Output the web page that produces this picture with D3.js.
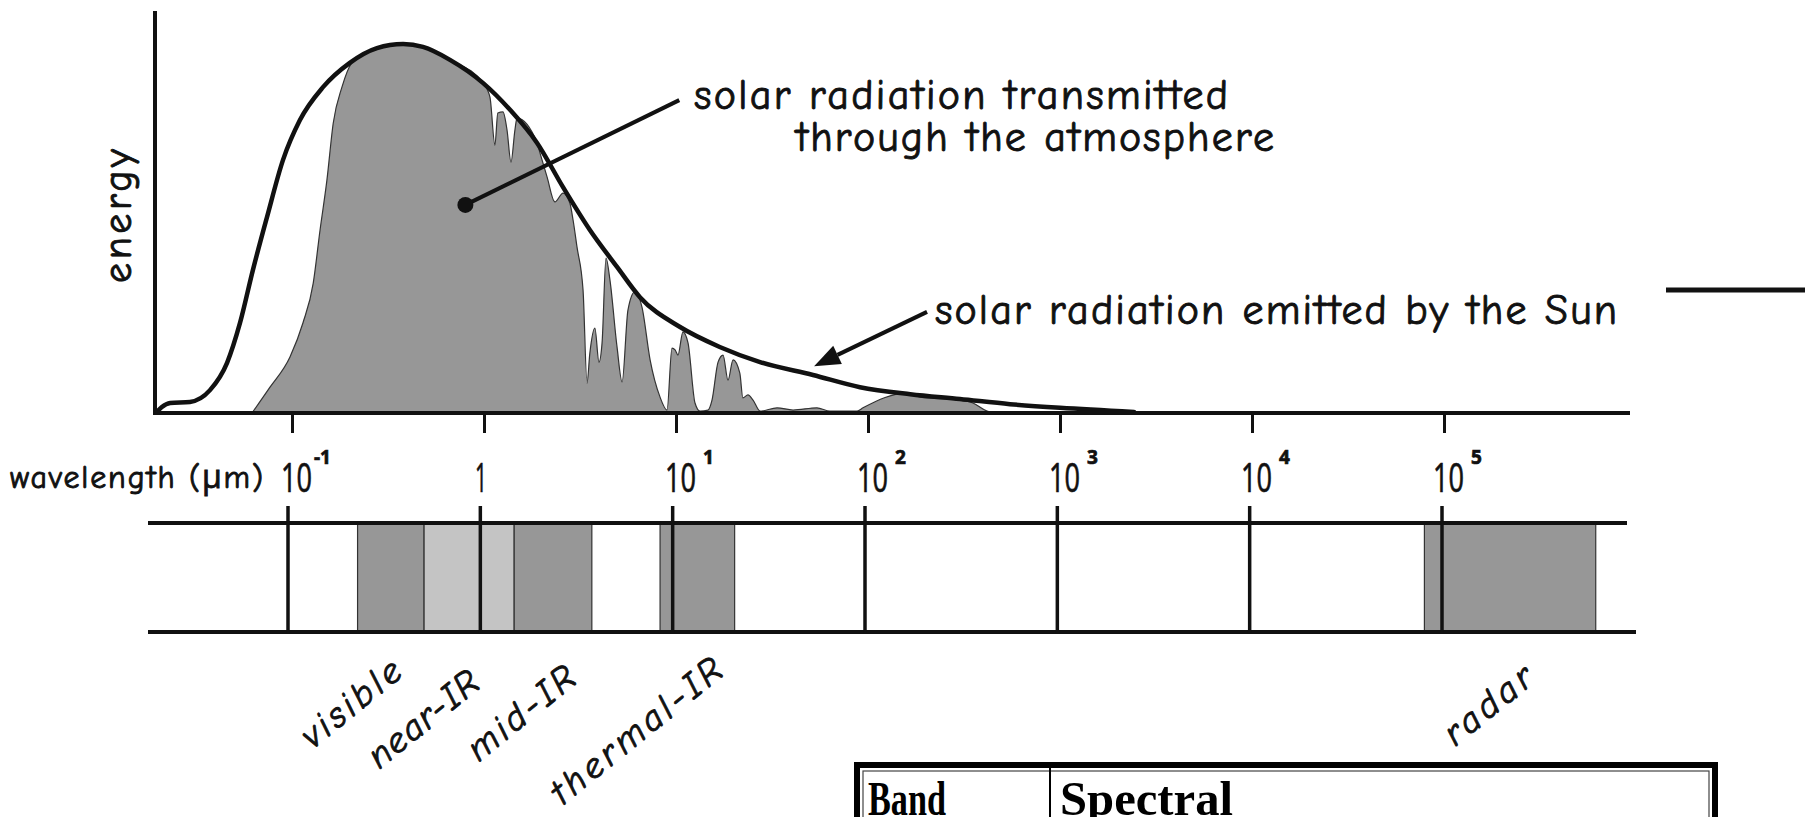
<!DOCTYPE html>
<html>
<head>
<meta charset="utf-8">
<script src="https://cdn.jsdelivr.net/npm/d3@7"></script>
<style>
  body { margin: 0; background: #fff; }
  svg { display: block; }
  .hand { font-family: "Comic Sans MS", "Comic Neue", "Open Sans", sans-serif; fill: #111; stroke: #111; stroke-width: 0.9px; }
  .digits { font-family: "Open Sans", sans-serif; fill: #111; stroke: #111; stroke-width: 0.7px; }
</style>
</head>
<body>
<div id="chart"></div>
<script>
// wavelength in micrometres, energy relative to the peak (=100)
const sunWavelength = [0.0198, 0.021, 0.0232, 0.0294, 0.0374, 0.0459, 0.0536, 0.0626, 0.0741, 0.0898,
  0.11, 0.145, 0.2, 0.277, 0.379, 0.481, 0.665, 0.99, 1.37, 1.89, 2.58, 3.56, 4.93, 6.49,
  10.5, 16.9, 27.4, 51.7, 90.8, 166, 301, 549, 1000, 2430];
const sunEnergy = [0.3, 1.6, 2.7, 3.0, 6.2, 13.6, 24.4, 38.8, 53.1, 68.6,
  79.4, 88.3, 94.9, 98.9, 100, 99.2, 95.7, 89.4, 82.1, 73.2, 61.2, 49.6, 39.6, 31.4,
  23.3, 17.9, 13.8, 10.3, 7.0, 5.1, 3.8, 2.4, 1.4, 0.3];

const transWavelength = [0.0619, 0.0768, 0.0976, 0.114, 0.129, 0.14, 0.152, 0.164, 0.182, 0.205,
  0.277, 0.379, 0.481, 0.665, 0.99, 1.074, 1.14, 1.18, 1.256, 1.318, 1.382, 1.449, 1.485, 1.89,
  1.957, 2.13, 2.34, 2.58, 2.8, 2.91, 3.05, 3.28, 3.44, 3.56, 3.78, 3.97, 4.12, 4.32, 4.53,
  4.93, 5.24, 5.62, 6.11, 6.65, 7.33, 8.26, 8.98, 9.53, 9.89, 10.24, 10.87, 11.55, 12.56,
  13.34, 14.68, 15.4, 16.56, 17.58, 18.66, 19.82, 21.5, 22.3, 23.7, 25.2, 27.4, 33.6, 40.7,
  54.2, 63.4, 87.7, 94.2, 160, 187, 301, 352, 417, 457];
const transEnergy = [0, 7.0, 15.2, 24.4, 35.2, 49.6, 63.1, 78.6, 88.3, 94.9,
  98.9, 100, 99.2, 95.7, 89.4, 85.6, 72.6, 81.3, 81.6, 76.7, 68.0, 76.7, 79.9, 73.2,
  70.5, 64.0, 57.2, 59.6, 56.9, 52.3, 45.0, 33.3, 8.1, 16.3, 23.0, 13.8, 19.0, 42.0, 36.0,
  17.9, 8.4, 27.9, 32.8, 28.7, 14.4, 4.3, 0.8, 17.6, 17.1, 15.7, 22.0, 19.0, 2.7,
  0.5, 0.8, 3.5, 13.8, 15.7, 8.9, 14.4, 10.8, 4.1, 4.9, 3.5, 0.5, 1.4, 0.8,
  1.4, 0.5, 0.5, 1.4, 5.4, 4.3, 3.5, 2.7, 0.5, 0];

const tickValues = [0.1, 1, 10, 100, 1000, 10000, 100000];
const tickBase = ["10", "1", "10", "10", "10", "10", "10"];
const tickSup = ["-1", "", "1", "2", "3", "4", "5"];

const bandNames = ["visible", "near-IR", "mid-IR", "thermal-IR", "radar"];
const bandStart = [0.23, 0.51, 1.5, 8.6, 81000];
const bandEnd = [0.51, 1.5, 3.8, 21, 630000];

const kWidth = 1805;
const kHeight = 817;
const kPlotLeft = 155;
const kPlotRight = 1630;
const kBaseY = 413;
const kPeakY = 44;
const kAxisTop = 11;
const kBandTop = 523;
const kBandBottom = 632;
const kDark = "#979797";
const kLight = "#c4c4c4";
// where the slanted band names sit (centre of each label) and how long they run
const kBandLabelPos = [[351, 703], [423, 719], [521, 713], [636, 731], [1488, 705]];
const kBandLabelLen = [118, 132, 128, 210, 104];

function createSvg()
{
  return d3.select("#chart")
    .append("svg")
    .attr("width", kWidth)
    .attr("height", kHeight)
    .style("background", "#fff");
}

function drawSpectrum(svg, x, y)
{
  const trans = transWavelength.map((w, i) => [w, transEnergy[i]]);
  const sun = sunWavelength.map((w, i) => [w, sunEnergy[i]]);

  const area = d3.area()
    .x(d => x(d[0]))
    .y0(y(0))
    .y1(d => y(d[1]))
    .curve(d3.curveMonotoneX);

  svg.append("path")
    .datum(trans)
    .attr("d", area)
    .attr("fill", kDark)
    .attr("stroke", "#333")
    .attr("stroke-width", 1.2);

  const line = d3.line()
    .x(d => x(d[0]))
    .y(d => y(d[1]))
    .curve(d3.curveMonotoneX);

  svg.append("path")
    .datum(sun)
    .attr("d", line)
    .attr("fill", "none")
    .attr("stroke", "#111")
    .attr("stroke-width", 4.5)
    .attr("stroke-linecap", "round");

  // axes frame
  svg.append("line")
    .attr("x1", kPlotLeft).attr("x2", kPlotLeft)
    .attr("y1", kAxisTop).attr("y2", kBaseY)
    .attr("stroke", "#111").attr("stroke-width", 4);
  svg.append("line")
    .attr("x1", kPlotLeft - 2).attr("x2", kPlotRight)
    .attr("y1", kBaseY).attr("y2", kBaseY)
    .attr("stroke", "#111").attr("stroke-width", 4);

  svg.append("text")
    .attr("class", "hand")
    .attr("transform", `translate(131, 216) rotate(-90)`)
    .attr("text-anchor", "middle")
    .attr("font-size", 40)
    .attr("textLength", 134)
    .text("energy");
}

function drawAxis(svg, x)
{
  const axis = d3.axisBottom(x)
    .tickValues(tickValues)
    .tickSize(20)
    .tickFormat("");

  const g = svg.append("g")
    .attr("transform", `translate(0, ${kBaseY})`)
    .call(axis);
  g.select(".domain").remove();
  g.selectAll(".tick line")
    .attr("stroke", "#111")
    .attr("stroke-width", 3);

  const labels = svg.append("g");
  tickValues.forEach((v, i) => {
    if (!tickSup[i]) {
      labels.append("text")
        .attr("class", "digits")
        .attr("x", x(v) - 3)
        .attr("y", 492)
        .attr("text-anchor", "middle")
        .attr("font-size", 40)
        .attr("textLength", 12)
        .attr("lengthAdjust", "spacingAndGlyphs")
        .text(tickBase[i]);
      return;
    }
    const t = labels.append("text")
      .attr("class", "digits")
      .attr("x", x(v) - 11)
      .attr("y", 492);
    t.append("tspan")
      .attr("font-size", 40)
      .attr("textLength", 31)
      .attr("lengthAdjust", "spacingAndGlyphs")
      .text(tickBase[i]);
    t.append("tspan")
      .attr("dx", tickSup[i] === "-1" ? 2 : 7)
      .attr("dy", -28)
      .attr("font-size", 19)
      .attr("font-weight", "bold")
      .text(tickSup[i]);
  });

  svg.append("text")
    .attr("class", "hand")
    .attr("x", 10)
    .attr("y", 488)
    .attr("font-size", 32)
    .attr("textLength", 253)
    .text("wavelength (\u03bcm)");
}

function drawBands(svg, x)
{
  const bands = bandNames.map((n, i) => ({ name: n, start: bandStart[i], end: bandEnd[i], i: i }));

  svg.selectAll("rect.band")
    .data(bands)
    .enter()
    .append("rect")
    .attr("class", "band")
    .attr("x", d => x(d.start))
    .attr("y", kBandTop)
    .attr("width", d => x(d.end) - x(d.start))
    .attr("height", kBandBottom - kBandTop)
    .attr("fill", d => d.name === "near-IR" ? kLight : kDark)
    .attr("stroke", "#333")
    .attr("stroke-width", 1.2);

  svg.append("line")
    .attr("x1", 148).attr("x2", 1627)
    .attr("y1", kBandTop).attr("y2", kBandTop)
    .attr("stroke", "#111").attr("stroke-width", 4);
  svg.append("line")
    .attr("x1", 148).attr("x2", 1636)
    .attr("y1", kBandBottom).attr("y2", kBandBottom)
    .attr("stroke", "#111").attr("stroke-width", 4);

  svg.selectAll("line.decade")
    .data(tickValues)
    .enter()
    .append("line")
    .attr("class", "decade")
    .attr("x1", d => x(d)).attr("x2", d => x(d))
    .attr("y1", kBandTop - 17).attr("y2", kBandBottom + 1)
    .attr("stroke", "#111")
    .attr("stroke-width", 3.5);

  svg.selectAll("text.bandLabel")
    .data(bands)
    .enter()
    .append("text")
    .attr("class", "hand bandLabel")
    .attr("text-anchor", "middle")
    .attr("dominant-baseline", "central")
    .attr("font-size", 37)
    .attr("font-style", "italic")
    .attr("textLength", d => kBandLabelLen[d.i])
    .attr("transform", d => `translate(${kBandLabelPos[d.i][0]}, ${kBandLabelPos[d.i][1]}) rotate(-39)`)
    .text(d => d.name);
}

function drawAnnotations(svg, x, y)
{
  // dot inside the transmitted area, leader to the label
  const dot = [x(0.8), y(56.4)];
  const lineEnd = [x(10.4), y(84.8)];
  svg.append("line")
    .attr("x1", dot[0]).attr("y1", dot[1])
    .attr("x2", lineEnd[0]).attr("y2", lineEnd[1])
    .attr("stroke", "#111").attr("stroke-width", 4);
  svg.append("circle")
    .attr("cx", dot[0]).attr("cy", dot[1])
    .attr("r", 8)
    .attr("fill", "#111");

  svg.append("text").attr("class", "hand")
    .attr("x", 694).attr("y", 109)
    .attr("font-size", 42).attr("textLength", 534)
    .text("solar radiation transmitted");
  svg.append("text").attr("class", "hand")
    .attr("x", 796).attr("y", 151)
    .attr("font-size", 42).attr("textLength", 478)
    .text("through the atmosphere");

  // arrow to the Sun curve
  const tail = [x(203), y(27.4)];
  const tip = [x(52.4), y(12.7)];
  const dx = tip[0] - tail[0], dy = tip[1] - tail[1];
  const len = Math.hypot(dx, dy);
  const ux = dx / len, uy = dy / len;
  const headLen = 26, headHalf = 10;
  const bx = tip[0] - ux * headLen, by = tip[1] - uy * headLen;
  svg.append("line")
    .attr("x1", tail[0]).attr("y1", tail[1])
    .attr("x2", bx).attr("y2", by)
    .attr("stroke", "#111").attr("stroke-width", 4);
  svg.append("polygon")
    .attr("points", [
      tip,
      [bx - uy * headHalf, by + ux * headHalf],
      [bx + uy * headHalf, by - ux * headHalf]
    ].map(p => p.join(",")).join(" "))
    .attr("fill", "#111");

  svg.append("text").attr("class", "hand")
    .attr("x", 935).attr("y", 324)
    .attr("font-size", 42).attr("textLength", 682)
    .text("solar radiation emitted by the Sun");

  svg.append("line")
    .attr("x1", 1666).attr("x2", kWidth)
    .attr("y1", 290).attr("y2", 290)
    .attr("stroke", "#111").attr("stroke-width", 5);
}

function drawTable(svg)
{
  svg.append("rect")
    .attr("x", 857).attr("y", 765)
    .attr("width", 858).attr("height", 120)
    .attr("fill", "none")
    .attr("stroke", "#000").attr("stroke-width", 6);
  svg.append("rect")
    .attr("x", 863).attr("y", 771)
    .attr("width", 846).attr("height", 120)
    .attr("fill", "none")
    .attr("stroke", "#444").attr("stroke-width", 1.2);
  svg.append("line")
    .attr("x1", 1050).attr("x2", 1050)
    .attr("y1", 768).attr("y2", kHeight)
    .attr("stroke", "#000").attr("stroke-width", 2);

  const font = "'Liberation Serif', 'Times New Roman', serif";
  svg.append("text")
    .attr("x", 868).attr("y", 815)
    .attr("font-family", font).attr("font-weight", "bold")
    .attr("font-size", 48).attr("textLength", 78)
    .attr("lengthAdjust", "spacingAndGlyphs")
    .text("Band");
  svg.append("text")
    .attr("x", 1060).attr("y", 815)
    .attr("font-family", font).attr("font-weight", "bold")
    .attr("font-size", 48).attr("textLength", 173)
    .attr("lengthAdjust", "spacingAndGlyphs")
    .text("Spectral");
}

document.addEventListener("DOMContentLoaded", () => {
  const svg = createSvg();

  const x = d3.scaleLog()
    .domain([0.1, 100000])
    .range([292, 1444]);
  const bandX = d3.scaleLog()
    .domain([0.1, 100000])
    .range([288, 1442]);
  const y = d3.scaleLinear()
    .domain([0, 100])
    .range([kBaseY, kPeakY]);

  drawSpectrum(svg, x, y);
  drawAxis(svg, x);
  drawBands(svg, bandX);
  drawAnnotations(svg, x, y);
  drawTable(svg);
});
</script>
</body>
</html>
